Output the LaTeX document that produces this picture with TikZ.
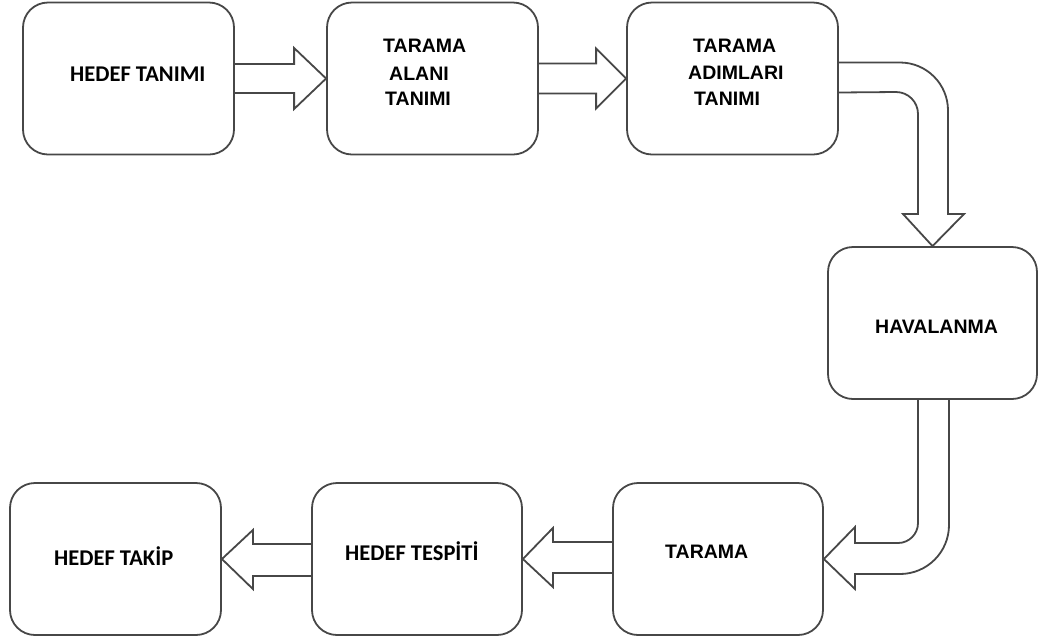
\documentclass[tikz,border=0pt]{standalone}
\usepackage{fontspec}
\setmainfont{Liberation Sans}
\newfontfamily\calfont{Carlito}
\usetikzlibrary{calc}
\begin{document}
\begin{tikzpicture}[x=1pt,y=1pt,
 box/.style={draw=black!72, line width=1.8pt, rounded corners=25pt, minimum width=211pt, minimum height=152pt, inner sep=0pt},
 blk/.style={draw=black!72, line width=1.8pt, line join=miter},
 atxt/.style={font=\fontsize{19.5}{23}\selectfont\bfseries, anchor=base west, inner sep=0pt, text=black},
 ctxt/.style={font=\calfont\fontsize{22.5}{26}\selectfont\bfseries, anchor=base west, inner sep=0pt, text=black}]
\useasboundingbox (0,0) rectangle (1038,-641);
% boxes
\node[box] (b1) at (128.5,-78.5) {};
\node[box] (b2) at (432.5,-78.5) {};
\node[box] (b3) at (732.5,-78.5) {};
\node[box, minimum width=209pt] (b4) at (932.5,-323) {};
\node[box, minimum width=210pt] (b5) at (718,-559) {};
\node[box, minimum width=210pt] (b6) at (417,-559) {};
\node[box] (b7) at (115.5,-559) {};
% texts
\node[ctxt] (t1) at (70,-81) {HEDEF TANIMI};
\node[atxt] (t2a) at (383,-52.5) {TARAMA};
\node[atxt] (t2b) at (389,-80) {ALANI};
\node[atxt] (t2c) at (385,-105) {TANIMI};
\node[atxt] (t3a) at (693,-52) {TARAMA};
\node[atxt] (t3b) at (688,-79) {ADIMLARI};
\node[atxt] (t3c) at (694,-105) {TANIMI};
\node[atxt] (t4) at (875,-333) {HAVALANMA};
\node[atxt] (t5) at (665,-558) {TARAMA};
\node[ctxt] (t6) at (345,-560.5) {HEDEF TESPİTİ};
\node[ctxt] (t7) at (54,-565) {HEDEF TAKİP};
% straight block arrows
\draw[blk] ([yshift=14.5pt]b1.east) -- ($(b2.west)+(-32,14.5)$) -- ($(b2.west)+(-32,30.5)$) -- (b2.west)
  -- ($(b2.west)+(-32,-30.5)$) -- ($(b2.west)+(-32,-14.5)$) -- ([yshift=-14.5pt]b1.east);
\draw[blk] ([yshift=15pt]b2.east) -- ($(b3.west)+(-30,15)$) -- ($(b3.west)+(-30,30)$) -- (b3.west)
  -- ($(b3.west)+(-30,-30)$) -- ($(b3.west)+(-30,-15)$) -- ([yshift=-15pt]b2.east);
\draw[blk] ([yshift=17pt]b5.west) -- ($(b6.east)+(30,17)$) -- ($(b6.east)+(30,31)$) -- (b6.east)
  -- ($(b6.east)+(30,-28)$) -- ($(b6.east)+(30,-14)$) -- ([yshift=-14pt]b5.west);
\draw[blk] ([yshift=15pt]b6.west) -- ($(b7.east)+(31,15)$) -- ($(b7.east)+(31,29)$) -- (b7.east)
  -- ($(b7.east)+(31,-30)$) -- ($(b7.east)+(31,-17)$) -- ([yshift=-17pt]b6.west);
% curved block arrow b3 -> b4
\draw[blk] ([yshift=16pt]b3.east) -- (900,-62.5) arc[start angle=90, end angle=0, radius=48]
  -- (948,-214) -- (964,-214) -- (b4.north) -- (903,-214) -- (918,-214) -- (918,-114)
  arc[start angle=0, end angle=90, radius=22] -- ([yshift=-14pt]b3.east);
% curved block arrow b4 -> b5
\draw[blk] ([xshift=-14.5pt]b4.south) -- (918,-523) arc[start angle=0, end angle=-90, radius=20]
  -- (855,-543) -- (855,-527) -- (b5.east) -- (855,-589) -- (855,-574) -- (900,-574)
  arc[start angle=-90, end angle=0, radius=49] -- ([xshift=16.5pt]b4.south);
\end{tikzpicture}
\end{document}
